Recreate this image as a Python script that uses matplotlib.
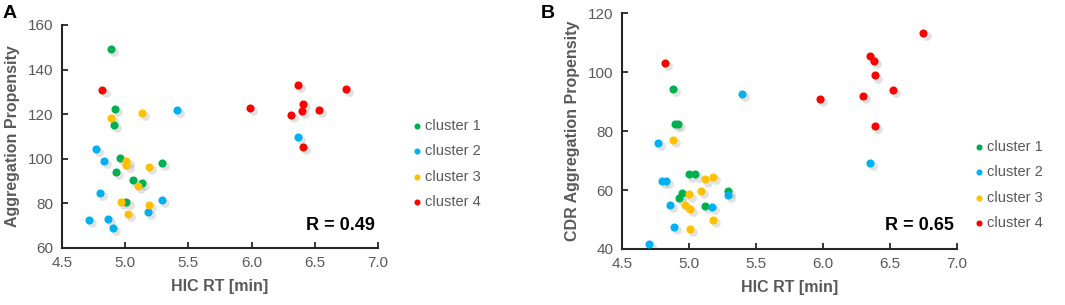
import matplotlib
matplotlib.use("Agg")
import matplotlib.pyplot as plt
from matplotlib.transforms import offset_copy

plt.rcParams['font.family'] = ['Liberation Sans', 'DejaVu Sans']

# ---------------- data ----------------
clusters = ["cluster 1", "cluster 2", "cluster 3", "cluster 4"]
colors = ["#00B050", "#00B0F0", "#FFC000", "#FF0000"]

# Panel A: Aggregation Propensity vs HIC RT
a_c1_x = [4.89, 4.92, 4.91, 4.96, 4.93, 5.06, 5.13, 5.29, 5.01]
a_c1_y = [149.2, 122.3, 115.2, 100.2, 94.2, 90.5, 89.0, 98.3, 80.8]
a_c2_x = [5.41, 4.77, 4.83, 4.80, 5.29, 5.18, 4.71, 4.86, 4.90, 6.37]
a_c2_y = [121.9, 104.3, 99.1, 84.5, 81.5, 76.0, 72.6, 73.1, 68.8, 109.8]
a_c3_x = [4.885, 5.13, 5.01, 5.01, 5.19, 5.10, 4.97, 5.19, 5.02]
a_c3_y = [118.2, 120.4, 99.0, 97.2, 96.5, 87.8, 80.5, 79.3, 75.2]
a_c4_x = [4.82, 5.99, 6.37, 6.75, 6.41, 6.40, 6.31, 6.53, 6.41]
a_c4_y = [130.7, 122.9, 133.1, 131.3, 124.4, 121.4, 119.5, 122.0, 105.4]

# Panel B: CDR Aggregation Propensity vs HIC RT
b_c1_x = [4.885, 4.90, 4.92, 5.00, 5.05, 4.95, 4.93, 5.12, 5.29]
b_c1_y = [94.4, 82.4, 82.4, 65.3, 65.3, 59.1, 57.2, 54.7, 59.7]
b_c2_x = [4.77, 4.80, 4.83, 4.86, 5.17, 4.89, 4.70, 5.29, 6.35, 5.40]
b_c2_y = [75.9, 63.2, 63.2, 55.1, 54.2, 47.5, 41.8, 58.3, 69.1, 92.6]
b_c3_x = [4.88, 5.12, 5.18, 5.09, 5.00, 4.97, 5.01, 5.18, 5.01]
b_c3_y = [77.0, 63.6, 64.5, 59.7, 58.5, 54.9, 53.7, 50.0, 46.7]
b_c4_x = [4.82, 5.98, 6.30, 6.35, 6.38, 6.39, 6.39, 6.52, 6.75]
b_c4_y = [103.0, 90.9, 91.8, 105.4, 103.7, 98.9, 81.6, 94.1, 113.3]

x_ticks = [4.5, 5.0, 5.5, 6.0, 6.5, 7.0]
a_y_ticks = [60, 80, 100, 120, 140, 160]
b_y_ticks = [40, 60, 80, 100, 120]

panels = [
    dict(rect=[62/1065, 1-248/305, (378-62)/1065, (248-25)/305],
         series=[(a_c1_x, a_c1_y), (a_c2_x, a_c2_y), (a_c3_x, a_c3_y), (a_c4_x, a_c4_y)],
         yticks=a_y_ticks, ylabel="Aggregation Propensity", r="R = 0.49",
         letter="A", letter_x=3/1065, legend_xy=(402/1065, 1-113/305)),
    dict(rect=[621.7/1065, 1-249/305, (957-621.7)/1065, (249-13.3)/305],
         series=[(b_c1_x, b_c1_y), (b_c2_x, b_c2_y), (b_c3_x, b_c3_y), (b_c4_x, b_c4_y)],
         yticks=b_y_ticks, ylabel="CDR Aggregation Propensity", r="R = 0.65",
         letter="B", letter_x=541/1065, legend_xy=(964/1065, 1-134/305)),
]

fig = plt.figure(figsize=(10.65, 3.05), dpi=100)
gray = "#595959"

for p in panels:
    ax = fig.add_axes(p["rect"])
    shadow_tr = offset_copy(ax.transData, fig=fig, x=2.2, y=-2.2, units='points')
    handles = []
    for (xs, ys), col, lab in zip(p["series"], colors, clusters):
        ax.scatter(xs, ys, s=40, color="#a0a0a0", alpha=0.3, linewidths=0,
                   transform=shadow_tr, zorder=2)
        h = ax.scatter(xs, ys, s=34, color=col, linewidths=0, zorder=3, label=lab)
        handles.append(h)
    ax.set_xlim(x_ticks[0], x_ticks[-1])
    ax.set_ylim(p["yticks"][0], p["yticks"][-1])
    ax.set_xticks(x_ticks)
    ax.set_xticklabels([f"{v:.1f}" for v in x_ticks])
    ax.set_yticks(p["yticks"])
    for s in ["top", "right"]:
        ax.spines[s].set_visible(False)
    for s in ["left", "bottom"]:
        ax.spines[s].set_color("#262626")
        ax.spines[s].set_linewidth(1.5)
    ax.tick_params(direction="in", length=4, width=1.3, color="#262626",
                   labelcolor=gray, labelsize=11, pad=6)
    ax.set_xlabel("HIC RT [min]", fontsize=11.5, fontweight="bold", color=gray, labelpad=6)
    ax.set_ylabel(p["ylabel"], fontsize=11.5, fontweight="bold", color=gray, labelpad=6)
    ax.text(0.99, 0.10, p["r"], transform=ax.transAxes, ha="right", va="center",
            fontsize=13, fontweight="bold", color="black")
    fig.text(p["letter_x"], 1-14/305, p["letter"], fontsize=14, fontweight="bold",
             color="black", ha="left", va="center")
    fig.legend(handles=handles, labels=clusters, loc="upper left",
               bbox_to_anchor=p["legend_xy"], frameon=False, fontsize=10.5,
               handletextpad=0.0, labelspacing=0.78, markerscale=0.75,
               borderaxespad=0, labelcolor=gray, handlelength=1.2)

fig.savefig("out.png", dpi=100)
